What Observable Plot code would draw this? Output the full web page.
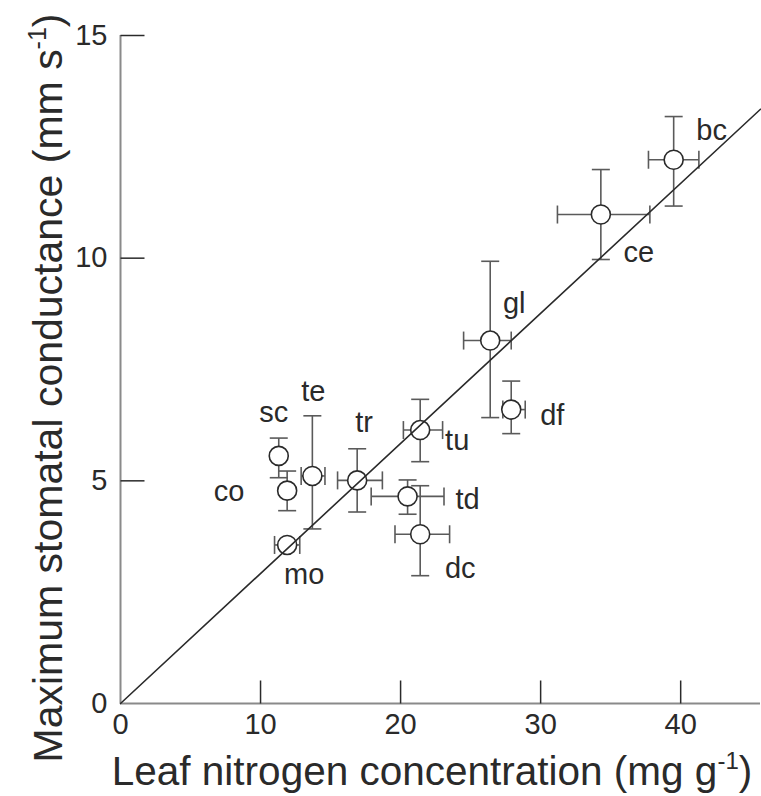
<!DOCTYPE html>
<html>
<head>
<meta charset="utf-8">
<script src="https://cdn.jsdelivr.net/npm/d3@7"></script>
<script src="https://cdn.jsdelivr.net/npm/@observablehq/plot@0.6"></script>
<style>
  html, body { margin: 0; padding: 0; background: #fff; }
  #chart svg { display: block; }
</style>
</head>
<body>
<div id="chart"></div>
<script>
// ---- data ----
const species        = ["bc", "ce", "gl", "df", "tu", "td", "dc", "tr", "te", "sc", "co", "mo"];
const nitrogen       = [39.5, 34.3, 26.4, 27.9, 21.4, 20.5, 21.4, 16.9, 13.7, 11.3, 11.9, 11.9];
const nitrogenLow    = [37.7, 31.2, 24.5, 27.3, 20.2, 17.9, 19.6, 15.5, 12.9, null, null, 11.0];
const nitrogenHigh   = [41.3, 37.8, 27.9, 28.9, 23.0, 23.1, 23.5, 18.7, 14.6, null, null, 12.8];
const conductance    = [12.21, 10.98, 8.15, 6.6, 6.14, 4.65, 3.80, 5.01, 5.11, 5.56, 4.78, 3.56];
const conductanceLow = [11.17, 9.97, 6.42, 6.06, 5.43, 4.25, 2.87, 4.30, 3.92, 5.07, 4.33, null];
const conductanceHigh= [13.18, 11.99, 9.93, 7.24, 6.83, 5.02, 4.89, 5.72, 6.46, 5.96, 5.22, null];
const fitSlope = 0.292;      // line through the origin
const fitIntercept = 0;
const xTicks = [0, 10, 20, 30, 40];
const yTicks = [0, 5, 10, 15];
const xMax = 45.7;
const yMax = 15;

// ---- layout / style (not data) ----
const labelOffset = {
  bc: [38, -29], ce: [38, 38], gl: [24, -37], df: [41, 6], tu: [37, 11], td: [60, 3],
  dc: [40, 34], tr: [7, -58], te: [1, -84], sc: [-5, -43], co: [-58, 1], mo: [17, 30]
};
const FONT = "'Liberation Sans', Arial, Helvetica, sans-serif";
const INK = "#2a2a2a";
const BAR = "#5a5a5a";

const rows = species.map((s, i) => ({
  s, x: nitrogen[i], xl: nitrogenLow[i], xh: nitrogenHigh[i],
  y: conductance[i], yl: conductanceLow[i], yh: conductanceHigh[i]
}));
const vRows = rows.filter(d => d.yl != null);
const hRows = rows.filter(d => d.xl != null);

// custom symbols: caps and inward ticks, half-length = r
const capH = { draw(ctx, size) { const r = Math.sqrt(size / Math.PI); ctx.moveTo(-r, 0); ctx.lineTo(r, 0); } };
const capV = { draw(ctx, size) { const r = Math.sqrt(size / Math.PI); ctx.moveTo(0, -r); ctx.lineTo(0, r); } };
const tickUp = { draw(ctx, size) { const r = Math.sqrt(size / Math.PI); ctx.moveTo(0, 0); ctx.lineTo(0, -r); } };
const tickRight = { draw(ctx, size) { const r = Math.sqrt(size / Math.PI); ctx.moveTo(0, 0); ctx.lineTo(r, 0); } };

const fitLine = [0, xMax].map(x => ({ x, y: fitIntercept + fitSlope * x }));

const labelMarks = rows.map(d => Plot.text([d], {
  x: "x", y: "y", text: "s",
  dx: labelOffset[d.s][0], dy: labelOffset[d.s][1],
  fontSize: 29, fill: INK, textAnchor: "middle", lineAnchor: "middle"
}));

const chart = Plot.plot({
  width: 761,
  height: 796,
  marginLeft: 120,
  marginRight: 1,
  marginTop: 35,
  marginBottom: 93,
  style: { fontFamily: FONT, background: "#fff", color: INK, overflow: "visible" },
  x: { domain: [0, xMax] },
  y: { domain: [0, yMax] },
  marks: [
    // axis lines
    Plot.ruleY([0], { stroke: "#8a8a8a", strokeWidth: 2 }),
    Plot.ruleX([0], { y1: 0, y2: yMax, stroke: "#8a8a8a", strokeWidth: 2 }),
    // inward ticks
    Plot.dot(xTicks.filter(t => t > 0), { x: d => d, y: 0, symbol: tickUp, r: 23, stroke: INK, strokeWidth: 1.5, fill: "none" }),
    Plot.dot(yTicks.filter(t => t > 0), { x: 0, y: d => d, symbol: tickRight, r: 24, stroke: INK, strokeWidth: 1.5, fill: "none" }),
    // tick labels
    Plot.axisX({ ticks: xTicks, tickSize: 0, tickPadding: 10, fontSize: 29, label: null, tickFormat: d3.format("d") }),
    Plot.axisY({ ticks: yTicks, tickSize: 0, tickPadding: 13, fontSize: 29, label: null, tickFormat: d3.format("d") }),
    // error bars
    Plot.link(vRows, { x1: "x", x2: "x", y1: "yl", y2: "yh", stroke: BAR, strokeWidth: 1.6 }),
    Plot.link(hRows, { x1: "xl", x2: "xh", y1: "y", y2: "y", stroke: BAR, strokeWidth: 1.6 }),
    Plot.dot(vRows, { x: "x", y: "yl", symbol: capH, r: 9, stroke: BAR, strokeWidth: 1.6, fill: "none" }),
    Plot.dot(vRows, { x: "x", y: "yh", symbol: capH, r: 9, stroke: BAR, strokeWidth: 1.6, fill: "none" }),
    Plot.dot(hRows, { x: "xl", y: "y", symbol: capV, r: 9, stroke: BAR, strokeWidth: 1.6, fill: "none" }),
    Plot.dot(hRows, { x: "xh", y: "y", symbol: capV, r: 9, stroke: BAR, strokeWidth: 1.6, fill: "none" }),
    // points
    Plot.dot(rows, { x: "x", y: "y", r: 9.5, fill: "#fff", stroke: INK, strokeWidth: 1.6 }),
    // fitted line
    Plot.line(fitLine, { x: "x", y: "y", stroke: INK, strokeWidth: 1.6 }),
    // species labels
    ...labelMarks
  ]
});

document.getElementById("chart").appendChild(chart);

// axis titles with superscripts
const svg = d3.select(chart);
const xt = svg.append("text")
  .attr("x", 432).attr("y", 785)
  .attr("text-anchor", "middle")
  .attr("font-family", FONT).attr("font-size", 40.5).attr("fill", INK);
xt.append("tspan").text("Leaf nitrogen concentration (mg g");
xt.append("tspan").attr("dy", -16).attr("font-size", 24).text("-1");
xt.append("tspan").attr("dy", 16).text(")");

const yt = svg.append("text")
  .attr("transform", "translate(62,388) rotate(-90)")
  .attr("text-anchor", "middle")
  .attr("font-family", FONT).attr("font-size", 41).attr("fill", INK);
yt.append("tspan").text("Maximum stomatal conductance (mm s");
yt.append("tspan").attr("dy", -16).attr("font-size", 25).text("-1");
yt.append("tspan").attr("dy", 16).text(")");
</script>
</body>
</html>
